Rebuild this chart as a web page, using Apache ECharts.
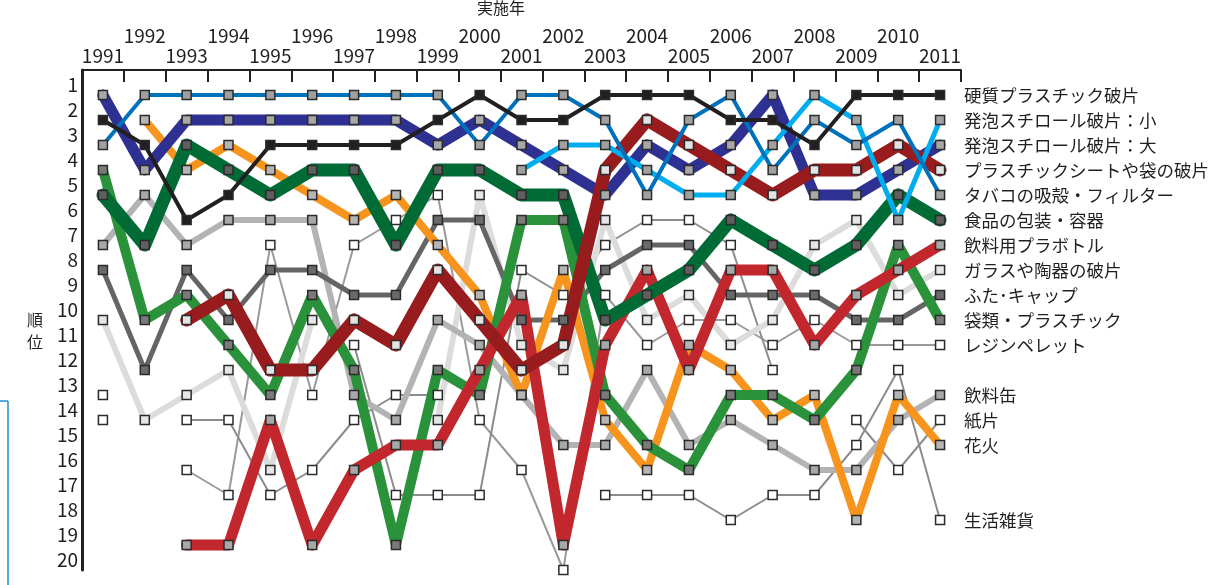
<!DOCTYPE html>
<html>
<head>
<meta charset="utf-8">
<script src="https://cdn.jsdelivr.net/npm/echarts@6/dist/echarts.min.js"></script>
<style>
html, body { margin: 0; padding: 0; background: #fff; }
#main { width: 1214px; height: 585px; }
</style>
</head>
<body>
<div id="main"></div>
<script>
// 実施年 (x) and 順位 (y, 1 = top)
var years = ['1991','1992','1993','1994','1995','1996','1997','1998','1999','2000',
             '2001','2002','2003','2004','2005','2006','2007','2008','2009','2010','2011'];

var hardPlastic = [2,3,6,5,3,3,3,3,2,1,2,2,1,1,1,2,2,3,1,1,1];
var foamSmall   = [null,null,null,null,null,null,null,null,null,null,4,3,3,4,5,5,3,1,2,6,2];
var foamLarge   = [1,4,2,2,2,2,2,2,3,2,3,4,5,3,4,3,1,5,5,4,3];
var sheetBag    = [null,null,10,9,12,12,10,11,8,10,12,11,4,2,3,4,5,4,4,3,4];
var cigarette   = [3,1,1,1,1,1,1,1,1,3,1,1,2,5,2,1,4,2,3,2,5];
var foodPack    = [5,7,3,4,5,4,4,7,4,4,5,5,10,9,8,6,7,8,7,5,6];
var petBottle   = [null,null,19,19,14,19,16,15,15,12,9,19,11,8,12,8,8,11,9,8,7];
var glass       = [10,14,13,12,16,10,null,null,14,5,11,12,6,10,9,11,10,7,6,9,8];
var caps        = [8,12,8,10,8,8,9,9,6,6,10,10,8,7,7,9,9,9,10,10,9];
var bagsPlastic = [4,10,9,11,13,9,12,19,12,13,6,6,13,15,16,13,13,14,12,7,10];
var resin       = [13,null,16,17,7,13,7,6,5,14,16,20,9,11,10,10,11,10,11,11,11];
var cans        = [7,5,7,6,6,6,13,14,10,11,13,15,15,12,15,14,15,16,16,14,13];
var paper       = [null,null,null,null,null,null,11,17,17,17,8,9,7,6,6,7,12,null,14,16,14];
var fireworks   = [null,2,4,3,4,5,6,5,7,9,13,8,14,16,11,12,14,13,18,13,15];
var household   = [14,null,14,14,17,16,14,13,13,null,null,null,17,17,17,18,17,17,15,12,18];

var FONT = '"Noto Sans CJK JP", "Noto Sans", sans-serif';

// drawing order: first = bottom
var defs = [
  { name: 'レジンペレット', data: resin, color: '#9a9a9a', width: 2, fill: '#ffffff' },
  { name: '紙片', data: paper, color: '#8c8c8c', width: 2, fill: '#ffffff' },
  { name: '生活雑貨', data: household, color: '#8c8c8c', width: 2, fill: '#ffffff' },
  { name: 'ガラスや陶器の破片', data: glass, color: '#dcdcdd', width: 6, fill: '#e6e6e6' },
  { name: '飲料缶', data: cans, color: '#b3b3b5', width: 6, fill: '#a8a8a8' },
  { name: 'ふた･キャップ', data: caps, color: '#656565', width: 5, fill: '#6a6a6a' },
  { name: '花火', data: fireworks, color: '#f7941d', width: 8, fill: '#b5b5b5' },
  { name: '袋類・プラスチック', data: bagsPlastic, color: '#2a923a', width: 10, fill: '#7a7a7a' },
  { name: '飲料用プラボトル', data: petBottle, color: '#c1272d', width: 11, fill: '#a8a8a8' },
  { name: '食品の包装・容器', data: foodPack, color: '#006b35', width: 13, fill: '#5f5f5f' },
  { name: '発泡スチロール破片：大', data: foamLarge, color: '#2e3192', width: 11, fill: '#a8a8a8' },
  { name: 'プラスチックシートや袋の破片', data: sheetBag, color: '#981b1e', width: 13, fill: '#e3e3e3' },
  { name: '発泡スチロール破片：小', data: foamSmall, color: '#00aeef', width: 5, fill: '#a0a0a0' },
  { name: 'タバコの吸殻・フィルター', data: cigarette, color: '#0071bc', width: 4, fill: '#a0a0a0' },
  { name: '硬質プラスチック破片', data: hardPlastic, color: '#231f20', width: 4, fill: '#231f20' }
];

var series = [];
defs.forEach(function (d, i) {
  series.push({
    type: 'line',
    name: d.name,
    data: d.data,
    showSymbol: false,
    silent: true,
    z: 2 + i * 0.01,
    lineStyle: { color: d.color, width: d.width, cap: 'round', join: 'round' },
    endLabel: {
      show: true,
      distance: 24,
      formatter: function () { return d.name; },
      color: '#231f20',
      fontSize: 17.5,
      fontFamily: FONT
    },
    emphasis: { disabled: true }
  });
});
defs.forEach(function (d) {
  series.push({
    type: 'line',
    data: d.data,
    silent: true,
    z: 5,
    symbol: 'rect',
    symbolSize: 9,
    showAllSymbol: true,
    lineStyle: { width: 0, opacity: 0 },
    itemStyle: { color: d.fill, borderColor: '#2b2b2b', borderWidth: 1.5 },
    emphasis: { disabled: true }
  });
});

var chart = echarts.init(document.getElementById('main'));
chart.setOption({
  animation: false,
  title: {
    text: '実施年',
    left: 472,
    top: -5,
    textStyle: { fontSize: 16, fontWeight: 'normal', color: '#231f20', fontFamily: FONT }
  },
  grid: { left: 82, right: 253, top: 70, bottom: 15 },
  xAxis: {
    type: 'category',
    position: 'top',
    data: years,
    boundaryGap: true,
    axisLine: { lineStyle: { color: '#231f20', width: 2 } },
    axisTick: { show: true, inside: true, length: 12, interval: 0, lineStyle: { color: '#231f20', width: 2 } },
    axisLabel: {
      interval: 0,
      margin: 4,
      fontSize: 19,
      lineHeight: 20,
      color: '#231f20',
      fontFamily: FONT,
      formatter: function (v) { return (+v) % 2 === 0 ? v + '\n ' : v; }
    }
  },
  yAxis: {
    type: 'value',
    inverse: true,
    min: 0,
    max: 20,
    interval: 1,
    name: ' \n順\n位',
    nameLocation: 'middle',
    nameGap: 39,
    nameRotate: 0,
    nameTextStyle: { fontSize: 16, lineHeight: 22, color: '#231f20', fontFamily: FONT },
    axisLine: { show: true, lineStyle: { color: '#231f20', width: 3 } },
    axisTick: { show: false },
    splitLine: { show: false },
    axisLabel: {
      margin: 4,
      fontSize: 19,
      lineHeight: 20,
      verticalAlign: 'bottom',
      color: '#231f20',
      fontFamily: FONT,
      formatter: function (v) { return v === 0 ? '' : v; }
    }
  },
  graphic: [
    { type: 'line', shape: { x1: 8, y1: 401, x2: 8, y2: 585 }, style: { stroke: '#1e90d8', lineWidth: 1.5 } },
    { type: 'line', shape: { x1: 0, y1: 401, x2: 8, y2: 401 }, style: { stroke: '#1e90d8', lineWidth: 1.5 } }
  ],
  series: series
});
</script>
</body>
</html>
